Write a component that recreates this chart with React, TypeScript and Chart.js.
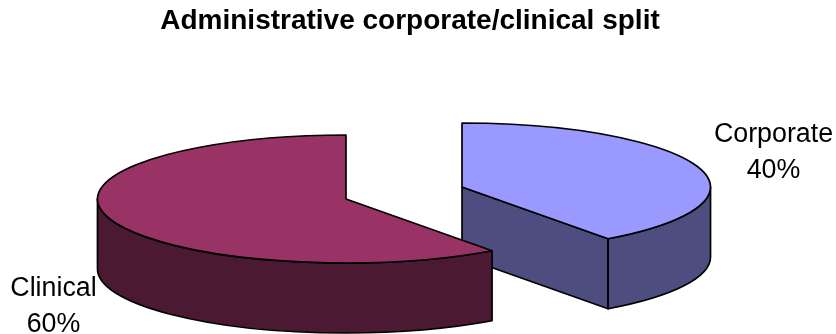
import React, { useEffect, useRef } from "react";
import { ArcElement, Chart, DoughnutController, PieController, Title } from "chart.js";

Chart.register(ArcElement, PieController, DoughnutController, Title);

const chartTitle = "Administrative corporate/clinical split";
const categories = ["Corporate", "Clinical"];
const shares = [40, 60];
const topColors = ["#9999FF", "#993366"];
const sideColors = ["#4D4D7F", "#4C1933"];

// Tilted-disc geometry of the exploded pie, in canvas pixels.
const disc = { cx: 404, cy: 193, rx: 248.5, ry: 64, depth: 70, explodeX: 61, explodeY: 19.4 };
const outlineWidth = 1.7;
const labelFont = '26.8px "Liberation Sans", Arial, sans-serif';
const labelAnchors = [
  { x: 773.5, y: 142 },
  { x: 53.5, y: 296 },
];
const labelLineHeight = 35.5;

const sliceCentre = (startAngle: number, endAngle: number) => {
  const mid = (startAngle + endAngle) / 2;
  return {
    x: disc.cx + disc.explodeX * Math.cos(mid),
    y: disc.cy + disc.explodeY * Math.sin(mid),
  };
};

const rimPoint = (c: { x: number; y: number }, angle: number) => ({
  x: c.x + disc.rx * Math.cos(angle),
  y: c.y + disc.ry * Math.sin(angle),
});

// Traces the side wall of one slice: the cut face when it looks towards the
// viewer and the part of the rim on the front half of the ellipse.
const drawWalls = (ctx: CanvasRenderingContext2D, c: { x: number; y: number }, start: number, end: number, color: string) => {
  ctx.fillStyle = color;
  ctx.strokeStyle = "#000";
  ctx.lineWidth = outlineWidth;
  ctx.lineJoin = "round";

  if (Math.cos(end) > 1e-6) {
    const p = rimPoint(c, end);
    ctx.beginPath();
    ctx.moveTo(c.x, c.y);
    ctx.lineTo(p.x, p.y);
    ctx.lineTo(p.x, p.y + disc.depth);
    ctx.lineTo(c.x, c.y + disc.depth);
    ctx.closePath();
    ctx.fill();
    ctx.stroke();
  }

  const a0 = Math.max(start, 0);
  const a1 = Math.min(end, Math.PI);
  if (a1 > a0) {
    ctx.beginPath();
    ctx.ellipse(c.x, c.y, disc.rx, disc.ry, 0, a0, a1);
    ctx.ellipse(c.x, c.y + disc.depth, disc.rx, disc.ry, 0, a1, a0, true);
    ctx.closePath();
    ctx.fill();
    ctx.stroke();
  }
};

// Replaces the flat dataset drawing: every arc element is extruded, then drawn
// by the library itself under a squashing transform, then outlined.
const tiltedPie = {
  id: "tiltedPie",
  beforeDatasetDraw(chart: any) {
    const ctx: CanvasRenderingContext2D = chart.ctx;
    const arcs = chart.getDatasetMeta(0).data;
    arcs.forEach((arc: any, i: number) => {
      const { startAngle, endAngle, outerRadius } = arc;
      const c = sliceCentre(startAngle, endAngle);
      drawWalls(ctx, c, startAngle, endAngle, sideColors[i]);

      ctx.save();
      ctx.translate(c.x, c.y);
      ctx.scale(disc.rx / outerRadius, disc.ry / outerRadius);
      ctx.translate(-arc.x, -arc.y);
      arc.draw(ctx);
      ctx.restore();

      ctx.strokeStyle = "#000";
      ctx.lineWidth = outlineWidth;
      ctx.lineJoin = "round";
      ctx.beginPath();
      ctx.moveTo(c.x, c.y);
      ctx.ellipse(c.x, c.y, disc.rx, disc.ry, 0, startAngle, endAngle);
      ctx.closePath();
      ctx.stroke();
    });
    return false;
  },
  afterDraw(chart: any) {
    const ctx: CanvasRenderingContext2D = chart.ctx;
    const total = shares.reduce((a, b) => a + b, 0);
    ctx.save();
    ctx.font = labelFont;
    ctx.fillStyle = "#000";
    ctx.textAlign = "center";
    ctx.textBaseline = "alphabetic";
    categories.forEach((name, i) => {
      const { x, y } = labelAnchors[i];
      ctx.fillText(name, x, y);
      ctx.fillText(`${Math.round((shares[i] / total) * 100)}%`, x, y + labelLineHeight);
    });
    ctx.restore();
  },
};

export default function App() {
  const canvasRef = useRef<HTMLCanvasElement>(null);

  useEffect(() => {
    const chart = new Chart(canvasRef.current!, {
      type: "pie",
      data: {
        labels: categories,
        datasets: [{ data: shares, backgroundColor: topColors, borderWidth: 0 }],
      },
      options: {
        animation: false,
        responsive: false,
        events: [],
        layout: { padding: { right: 16 } },
        plugins: {
          legend: { display: false },
          tooltip: { enabled: false },
          title: {
            display: true,
            text: chartTitle,
            color: "#000",
            font: { family: '"Liberation Sans", Arial, sans-serif', size: 28, weight: "bold" },
            padding: { top: 4.5, bottom: 10 },
          },
        },
      },
      plugins: [tiltedPie],
    } as any);
    return () => chart.destroy();
  }, []);

  return (
    <div style={{ position: "absolute", left: 0, top: 0, width: 836, height: 334, background: "#fff" }}>
      <canvas ref={canvasRef} width={836} height={334} style={{ display: "block" }} />
    </div>
  );
}
